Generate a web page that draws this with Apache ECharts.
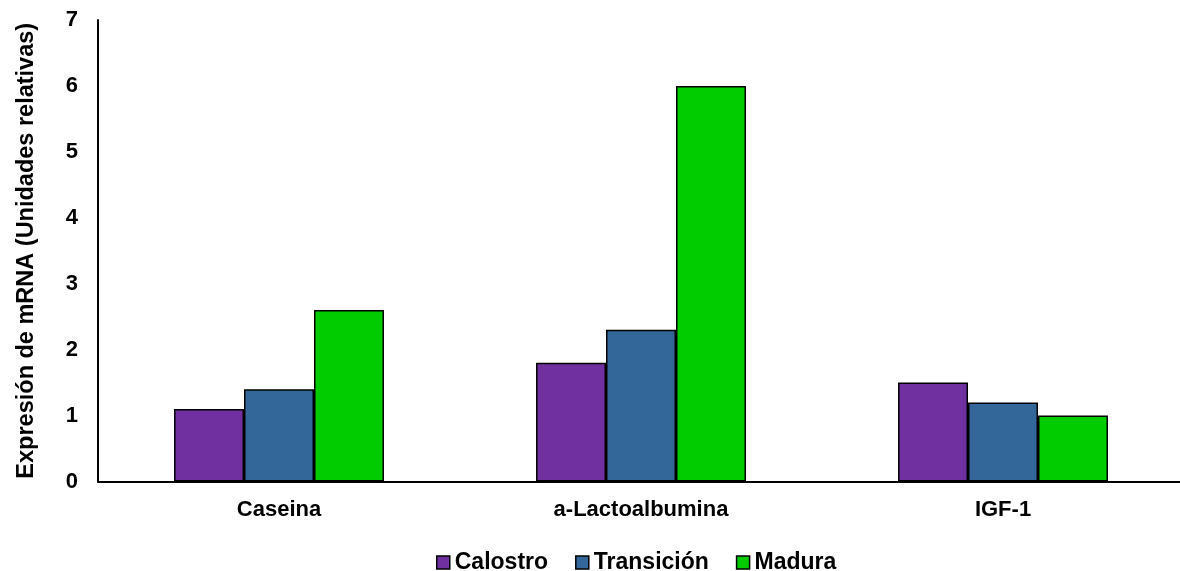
<!DOCTYPE html>
<html>
<head>
<meta charset="utf-8">
<script src="https://cdn.jsdelivr.net/npm/echarts@6/dist/echarts.min.js"></script>
<style>
  html, body { margin: 0; padding: 0; background: #fff; }
  #chart { width: 1180px; height: 571px; }
</style>
</head>
<body>
<div id="chart"></div>
<script>
// Relative mRNA expression by lactation stage
const categories = ['Caseina', 'a-Lactoalbumina', 'IGF-1'];
const calostro = [1.1, 1.8, 1.5];
const transicion = [1.4, 2.3, 1.2];
const madura = [2.6, 6.0, 1.0];
const seriesNames = ['Calostro', 'Transición', 'Madura'];
const seriesColors = ['#7030A0', '#336699', '#00CC00'];

const FONT = '"Liberation Sans", Arial, sans-serif';

const chart = echarts.init(document.getElementById('chart'), null, { renderer: 'canvas' });

const dataSets = [calostro, transicion, madura];
const series = dataSets.map((d, i) => ({
  name: seriesNames[i],
  type: 'bar',
  data: d,
  barGap: '0%',
  barCategoryGap: '42%',
  itemStyle: { color: seriesColors[i], borderColor: '#000', borderWidth: 1.5 }
}));

chart.setOption({
  animation: false,
  backgroundColor: '#fff',
  // plot area runs slightly past the right edge of the canvas
  grid: { left: 98, right: -4, top: 20, bottom: 89.5, containLabel: false, outerBoundsMode: 'none' },
  legend: {
    top: 546,
    left: 431,
    itemWidth: 13,
    itemHeight: 13,
    itemGap: 27,
    icon: 'rect',
    textStyle: { fontFamily: FONT, fontWeight: 'bold', fontSize: 23, color: '#000' },
    itemStyle: { borderColor: '#000', borderWidth: 1.5 },
    data: seriesNames
  },
  xAxis: {
    type: 'category',
    data: categories,
    axisLine: { lineStyle: { color: '#000', width: 2 } },
    axisTick: { show: false },
    axisLabel: { fontFamily: FONT, fontWeight: 'bold', fontSize: 22, color: '#000', margin: 17 }
  },
  yAxis: {
    type: 'value',
    min: 0,
    max: 7,
    interval: 1,
    name: 'Expresión de mRNA (Unidades relativas)',
    nameLocation: 'middle',
    nameGap: 59,
    nameTextStyle: { fontFamily: FONT, fontWeight: 'bold', fontSize: 23.5, color: '#000' },
    axisLine: { show: true, lineStyle: { color: '#000', width: 2 } },
    axisTick: { show: false },
    splitLine: { show: false },
    axisLabel: { fontFamily: FONT, fontWeight: 'bold', fontSize: 22, color: '#000', margin: 20 }
  },
  series: series
});
</script>
</body>
</html>
